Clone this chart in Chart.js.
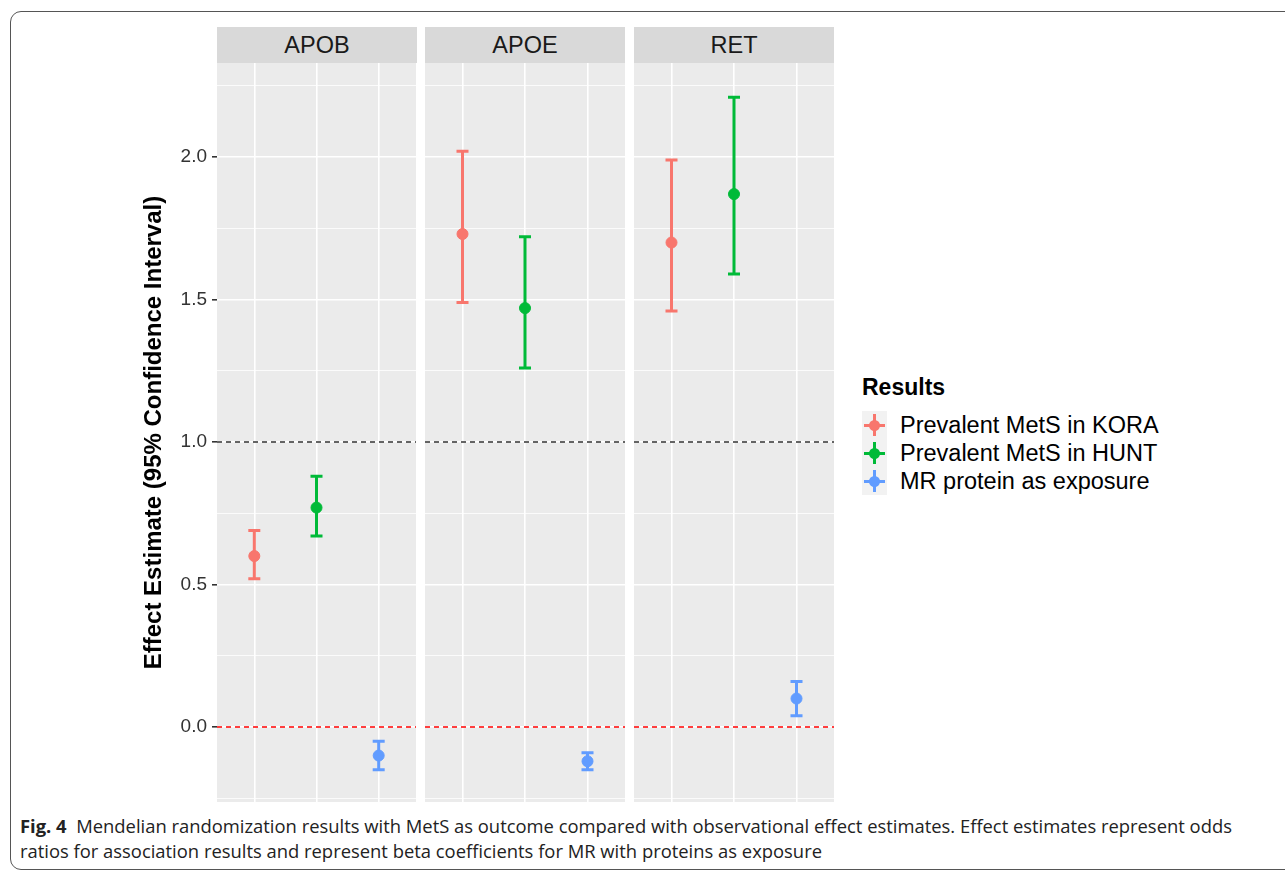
<!DOCTYPE html>
<html>
<head>
<meta charset="utf-8">
<script src="https://cdn.jsdelivr.net/npm/chart.js@4.4.1/dist/chart.umd.min.js"></script>
<style>
  body { margin: 0; background: #fff; font-family: "Liberation Sans", Arial, sans-serif; }
  #frame { position: absolute; left: 10px; top: 11px; width: 1300px; height: 857px; border: 1px solid #555; border-radius: 11px; }
  .panel { position: absolute; top: 63px; height: 739px; }
  .strip { position: absolute; top: 27px; height: 36px; width: 200px; background: #D9D9D9; color: #1a1a1a;
           font-size: 23.5px; line-height: 37px; text-align: center; }
  #legend { position: absolute; left: 862px; top: 374px; color: #000; }
  #legend .ttl { font-size: 23px; font-weight: bold; margin-bottom: 10px; }
  .item { position: relative; height: 28px; font-size: 23.5px; line-height: 28px; padding-left: 38px; }
  .key { position: absolute; left: 0; top: 0; width: 25px; height: 28px; background: #F2F2F2; }
  .key .v { position: absolute; left: 11px; top: 3px; width: 3px; height: 22px; }
  .key .h { position: absolute; left: 2px; top: 13px; width: 21px; height: 3px; }
  .key .d { position: absolute; left: 7px; top: 9px; width: 11px; height: 11px; border-radius: 50%; }
  #caption { position: absolute; left: 20px; top: 813px; width: 1260px; font-family: "Open Sans", sans-serif;
             font-size: 18.4px; line-height: 25px; color: #222; white-space: nowrap; }
</style>
</head>
<body>
<div id="frame"></div>
<div class="strip" style="left:217px">APOB</div>
<div class="strip" style="left:425px">APOE</div>
<div class="strip" style="left:634px">RET</div>
<div class="panel" style="left:132px;width:284px"><canvas id="p0"></canvas></div>
<div class="panel" style="left:425px;width:200px"><canvas id="p1"></canvas></div>
<div class="panel" style="left:634px;width:200px"><canvas id="p2"></canvas></div>
<div id="legend"></div>
<div id="caption"><b>Fig. 4</b>&nbsp; Mendelian randomization results with MetS as outcome compared with observational effect estimates. Effect estimates represent odds<br>ratios for association results and represent beta coefficients for MR with proteins as exposure</div>
<script>
// facetten
const paneles = ['APOB', 'APOE', 'RET'];
const series = ['Prevalent MetS in KORA', 'Prevalent MetS in HUNT', 'MR protein as exposure'];
const colores = ['#F8766D', '#00BA38', '#619CFF'];

// valores por panel (APOB, APOE, RET)
const kora_est = [0.60, 1.73, 1.70];
const kora_low = [0.52, 1.49, 1.46];
const kora_high = [0.69, 2.02, 1.99];

const hunt_est = [0.77, 1.47, 1.87];
const hunt_low = [0.67, 1.26, 1.59];
const hunt_high = [0.88, 1.72, 2.21];

const mr_est = [-0.10, -0.12, 0.10];
const mr_low = [-0.15, -0.15, 0.04];
const mr_high = [-0.05, -0.09, 0.16];

const yMajor = [0, 0.5, 1.0, 1.5, 2.0];
const yMinor = [-0.25, 0.25, 0.75, 1.25, 1.75, 2.25];
const lineasRef = [1.0, 0.0]; // lineas discontinuas

const est = [kora_est, hunt_est, mr_est];
const low = [kora_low, hunt_low, mr_low];
const high = [kora_high, hunt_high, mr_high];

// fondo gris del panel
const fondo = {
    id: 'fondo',
    beforeDraw(chart) {
        const a = chart.chartArea;
        chart.ctx.save();
        chart.ctx.fillStyle = '#EBEBEB';
        chart.ctx.fillRect(a.left, a.top, a.right - a.left, a.bottom - a.top);
        chart.ctx.restore();
    }
};

// barras de error
const barrasError = {
    id: 'barrasError',
    beforeDatasetsDraw(chart) {
        const ctx = chart.ctx;
        const xs = chart.scales.x, ys = chart.scales.y;
        chart.data.datasets.forEach(function(ds) {
            if (ds.lo === undefined) return;
            const x = xs.getPixelForValue(ds.data[0].x);
            const y1 = ys.getPixelForValue(ds.lo);
            const y2 = ys.getPixelForValue(ds.hi);
            ctx.save();
            ctx.strokeStyle = ds.backgroundColor;
            ctx.lineWidth = 3;
            ctx.beginPath();
            ctx.moveTo(x, y1); ctx.lineTo(x, y2);
            ctx.moveTo(x - 6, y1); ctx.lineTo(x + 6, y1);
            ctx.moveTo(x - 6, y2); ctx.lineTo(x + 6, y2);
            ctx.stroke();
            ctx.restore();
        });
    }
};

function crearPanel(i) {
    const conEje = i === 0;
    let datasets = [];
    lineasRef.forEach(function(v, k) {
        datasets.push({
            type: 'line',
            data: [{x: 0.4, y: v}, {x: 3.6, y: v}],
            borderColor: k === 0 ? '#333' : '#F00',
            borderWidth: 1.4,
            borderDash: [5, 4],
            pointRadius: 0
        });
    });
    series.forEach(function(s, k) {
        datasets.push({
            type: 'scatter',
            label: s,
            data: [{x: k + 1, y: est[k][i]}],
            lo: low[k][i],
            hi: high[k][i],
            backgroundColor: colores[k],
            borderColor: colores[k],
            pointRadius: 5.5,
            pointHoverRadius: 5.5
        });
    });

    new Chart(document.getElementById('p' + i), {
        type: 'scatter',
        data: { datasets: datasets },
        options: {
            responsive: true,
            maintainAspectRatio: false,
            animation: false,
            layout: { padding: 0, autoPadding: false },
            plugins: { legend: { display: false }, tooltip: { enabled: false } },
            scales: {
                x: {
                    type: 'linear', min: 0.4, max: 3.6,
                    afterBuildTicks: function(sc) { sc.ticks = [1, 2, 3].map(v => ({value: v})); },
                    afterFit: function(sc) { sc.height = 0; sc.paddingLeft = 0; sc.paddingRight = 0; },
                    ticks: { display: false },
                    border: { display: false },
                    grid: { color: '#fff', lineWidth: 1.6, drawTicks: false }
                },
                y: {
                    min: -0.263, max: 2.33,
                    afterBuildTicks: function(sc) {
                        sc.ticks = yMinor.concat(yMajor).sort((a, b) => a - b).map(v => ({value: v}));
                    },
                    afterFit: function(sc) {
                        sc.width = conEje ? 85 : 0;
                        sc.paddingTop = 0;
                        sc.paddingBottom = 0;
                    },
                    border: { display: false },
                    grid: {
                        color: '#fff',
                        lineWidth: ctx => yMajor.includes(ctx.tick.value) ? 1.6 : 0.8,
                        drawTicks: conEje,
                        tickLength: 5,
                        tickColor: ctx => yMajor.includes(ctx.tick.value) ? '#333' : 'rgba(0,0,0,0)'
                    },
                    ticks: {
                        display: conEje,
                        padding: 5,
                        color: '#333',
                        font: { family: 'Liberation Sans', size: 19 },
                        callback: v => yMajor.includes(v) ? v.toFixed(1) : ''
                    },
                    title: {
                        display: conEje,
                        text: 'Effect Estimate (95% Confidence Interval)',
                        color: '#000',
                        padding: { top: 8, bottom: 0 },
                        font: { family: 'Liberation Sans', size: 24, weight: 'bold' }
                    }
                }
            }
        },
        plugins: [fondo, barrasError]
    });
}

paneles.forEach(function(p, i) { crearPanel(i); });

// leyenda
let leyenda = document.getElementById('legend');
let html = '<div class="ttl">Results</div>';
series.forEach(function(s, k) {
    html += '<div class="item"><span class="key"><span class="v" style="background:' + colores[k] + '"></span>' +
        '<span class="h" style="background:' + colores[k] + '"></span><span class="d" style="background:' + colores[k] + '"></span></span>' + s + '</div>';
});
leyenda.innerHTML = html;
</script>
</body>
</html>
